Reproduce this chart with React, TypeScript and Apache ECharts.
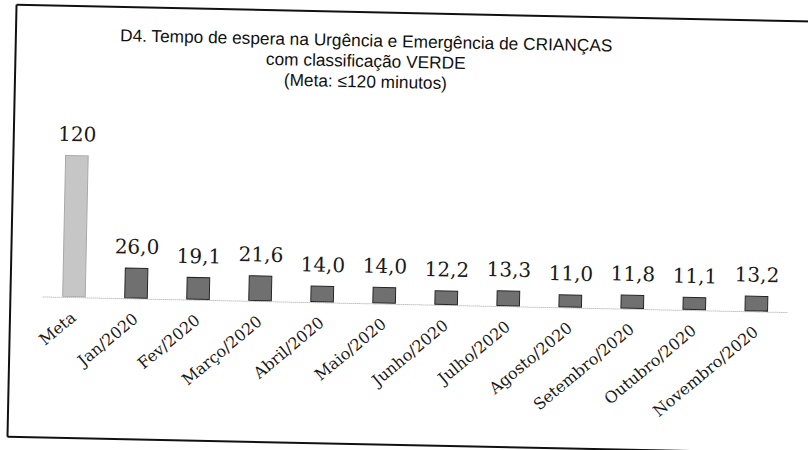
import React, { useEffect, useRef } from "react";
import * as echarts from "echarts";

const categories = [
  "Meta",
  "Jan/2020",
  "Fev/2020",
  "Março/2020",
  "Abril/2020",
  "Maio/2020",
  "Junho/2020",
  "Julho/2020",
  "Agosto/2020",
  "Setembro/2020",
  "Outubro/2020",
  "Novembro/2020",
];
const values = [120, 26.0, 19.1, 21.6, 14.0, 14.0, 12.2, 13.3, 11.0, 11.8, 11.1, 13.2];
const titleLines = [
  "D4. Tempo de espera na Urgência e Emergência de CRIANÇAS",
  "com classificação VERDE",
  "(Meta: ≤120 minutos)",
];

export default function App() {
  const ref = useRef<HTMLDivElement>(null);
  useEffect(() => {
    if (!ref.current) return;
    const chart = echarts.init(ref.current, null, { renderer: "svg" });
    const data = values.map((v, i) => ({
      value: v,
      itemStyle:
        i === 0
          ? { color: "#c6c6c6", borderColor: "#a8a8a8", borderWidth: 1 }
          : { color: "#707070", borderColor: "#262626", borderWidth: 1 },
    }));
    chart.setOption({
      animation: false,
      backgroundColor: "#ffffff",
      grid: { left: 44.5, right: 19, top: 162, bottom: 146 },
      xAxis: {
        type: "category",
        data: categories,
        axisLine: { lineStyle: { color: "#c4c4c4", type: "dotted", width: 1 } },
        axisTick: { show: false },
        axisLabel: {
          rotate: 41,
          interval: 0,
          margin: 18,
          fontFamily: "DejaVu Serif",
          fontSize: 16,
          color: "#1a1a1a",
        },
      },
      yAxis: {
        type: "value",
        min: 0,
        max: 120,
        show: false,
        splitLine: { show: false },
      },
      series: [
        {
          type: "bar",
          data,
          barWidth: "38%",
          label: {
            show: true,
            position: "top",
            distance: 11,
            fontFamily: "DejaVu Serif",
            fontSize: 20,
            color: "#1a1a1a",
            formatter: (p: any) =>
              p.dataIndex === 0 ? String(p.value) : Number(p.value).toFixed(1).replace(".", ","),
          },
        },
      ],
      graphic: [
        {
          type: "text",
          left: 366 - 250,
          top: 31,
          style: {
            text: titleLines.join("\n"),
            x: 250,
            textAlign: "center",
            font: '17.3px "Liberation Sans", Arial, sans-serif',
            lineHeight: 20.5,
            fill: "#111111",
          },
        },
        { type: "line", shape: { x1: 12, y1: 13, x2: 840, y2: 13 }, style: { stroke: "#111", lineWidth: 2 } },
        { type: "line", shape: { x1: 12, y1: 13, x2: 12, y2: 445 }, style: { stroke: "#111", lineWidth: 2 } },
        { type: "line", shape: { x1: 12, y1: 445, x2: 840, y2: 445 }, style: { stroke: "#111", lineWidth: 2 } },
      ],
    });
    return () => chart.dispose();
  }, []);
  return (
    <div
      ref={ref}
      style={{
        width: 808,
        height: 450,
        position: "absolute",
        left: 0,
        top: 0,
        transform: "rotate(1.2deg)",
        transformOrigin: "50% 50%",
      }}
    />
  );
}
